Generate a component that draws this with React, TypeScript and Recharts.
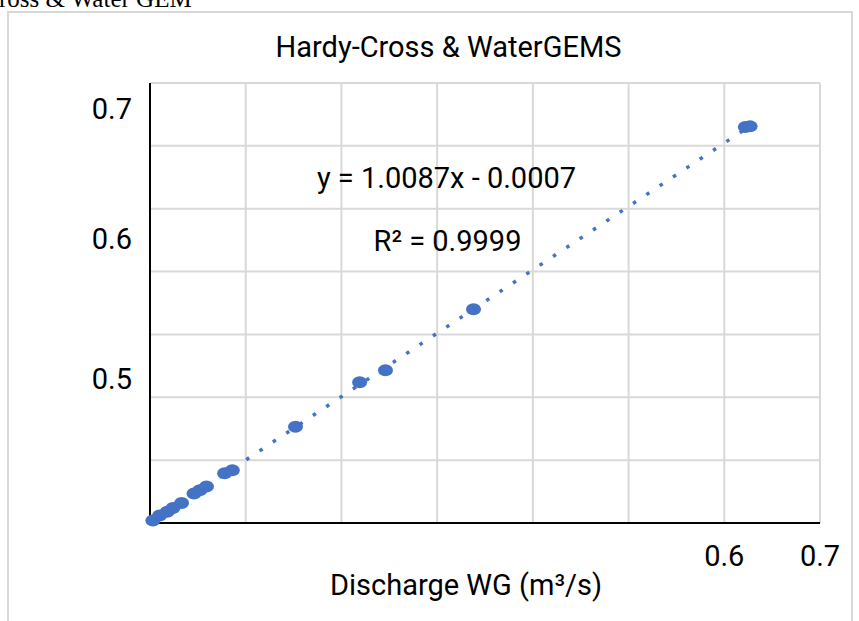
import React from "react";
import { ScatterChart, Scatter, XAxis, YAxis, CartesianGrid, ReferenceLine } from "recharts";

// Discharge from WaterGEMS (x) vs Hardy-Cross (y), m3/s
const dischargeWG = [0.003, 0.010, 0.018, 0.024, 0.033, 0.046, 0.052, 0.059, 0.078, 0.086, 0.152, 0.219, 0.246, 0.338, 0.622, 0.627];
const dischargeHC = [0.004, 0.012, 0.018, 0.024, 0.032, 0.047, 0.052, 0.058, 0.079, 0.084, 0.153, 0.224, 0.243, 0.340, 0.630, 0.631];

// linear trendline shown on the chart
const trendSlope = 1.0087;
const trendIntercept = -0.0007;
const trendR2 = 0.9999;

// gridlines every 0.1, but only some of the labels survive in the picture
const gridTicks = [0, 0.1, 0.2, 0.3, 0.4, 0.5, 0.6, 0.7];
const xTickLabels = [0.6, 0.7];
const yTickLabels = [0.5, 0.6, 0.7];

const BLUE = "#4472C4";
const FONT = "Roboto, 'Noto Sans', sans-serif";

const points = dischargeWG.map((x, i) => ({ x, y: dischargeHC[i] }));
const xMin = Math.min(...dischargeWG);
const xMax = Math.max(...dischargeWG);
const trendSegment = [
    { x: xMin, y: trendSlope * xMin + trendIntercept },
    { x: xMax, y: trendSlope * xMax + trendIntercept },
];

const Dot = (props: any) => {
    const { cx, cy } = props;
    if (cx == null || cy == null) return <g />;
    return <ellipse cx={cx} cy={cy} rx={7.5} ry={6} fill={BLUE} />;
};

export default function App() {
    return (
        <div style={{ position: "absolute", left: 0, top: 0, width: 859, height: 621, overflow: "hidden", background: "#fff" }}>
            {/* caption of the document, cut off by the crop */}
            <div style={{ position: "absolute", left: -1, top: -14, fontFamily: "'Liberation Serif', 'Times New Roman', serif", fontSize: 25, lineHeight: "25px", whiteSpace: "nowrap", color: "#000" }}>
                ross &amp; Water GEM
            </div>
            {/* chart frame */}
            <div style={{ position: "absolute", left: 7, top: 11, width: 842, height: 700, border: "2px solid #d9d9d9" }} />

            <div style={{ position: "absolute", left: 0, top: 0 }}>
                <ScatterChart width={859} height={621} margin={{ top: 83, right: 39, bottom: 38, left: 89 }}>
                    <CartesianGrid stroke="#d9d9d9" strokeWidth={2} />
                    <XAxis
                        type="number"
                        dataKey="x"
                        domain={[0, 0.7]}
                        ticks={gridTicks}
                        interval={0}
                        height={60}
                        tickLine={false}
                        tickSize={0}
                        tickMargin={22}
                        axisLine={{ stroke: "#000", strokeWidth: 2 }}
                        tick={{ fill: "#000", fontSize: 29, fontFamily: FONT }}
                        tickFormatter={(v: number) => (xTickLabels.includes(v) ? v.toFixed(1) : "")}
                    />
                    <YAxis
                        type="number"
                        dataKey="y"
                        domain={[0, 0.7]}
                        ticks={gridTicks}
                        interval={0}
                        width={1}
                        tickLine={false}
                        tickSize={0}
                        tickFormatter={() => ""}
                        axisLine={{ stroke: "#000", strokeWidth: 2 }}
                    />
                    {/* the y labels sit off the gridlines in the source; a sqrt scale places them */}
                    <YAxis
                        yAxisId="labels"
                        type="number"
                        scale="sqrt"
                        domain={[0.40706, 0.72104]}
                        allowDataOverflow
                        ticks={yTickLabels}
                        interval={0}
                        width={60}
                        axisLine={false}
                        tickLine={false}
                        tickSize={0}
                        tickMargin={17}
                        tick={{ fill: "#000", fontSize: 29, fontFamily: FONT }}
                        tickFormatter={(v: number) => v.toFixed(1)}
                    />
                    <Scatter data={points} shape={Dot} isAnimationActive={false} />
                    <ReferenceLine
                        segment={trendSegment}
                        stroke={BLUE}
                        strokeWidth={3.5}
                        strokeDasharray="3.5 12.5"
                    />
                    <text x={448.5} y={57} textAnchor="middle" fontFamily={FONT} fontSize={29} fill="#000">
                        Hardy-Cross &amp; WaterGEMS
                    </text>
                    <text x={446.5} y={188} textAnchor="middle" fontFamily={FONT} fontSize={29} fill="#000">
                        {`y = ${trendSlope.toFixed(4)}x - ${Math.abs(trendIntercept).toFixed(4)}`}
                    </text>
                    <text x={447.5} y={251} textAnchor="middle" fontFamily={FONT} fontSize={29} fill="#000">
                        {`R² = ${trendR2.toFixed(4)}`}
                    </text>
                    <text x={466} y={595} textAnchor="middle" fontFamily={FONT} fontSize={29} fill="#000">
                        Discharge WG (m³/s)
                    </text>
                </ScatterChart>
            </div>
        </div>
    );
}
